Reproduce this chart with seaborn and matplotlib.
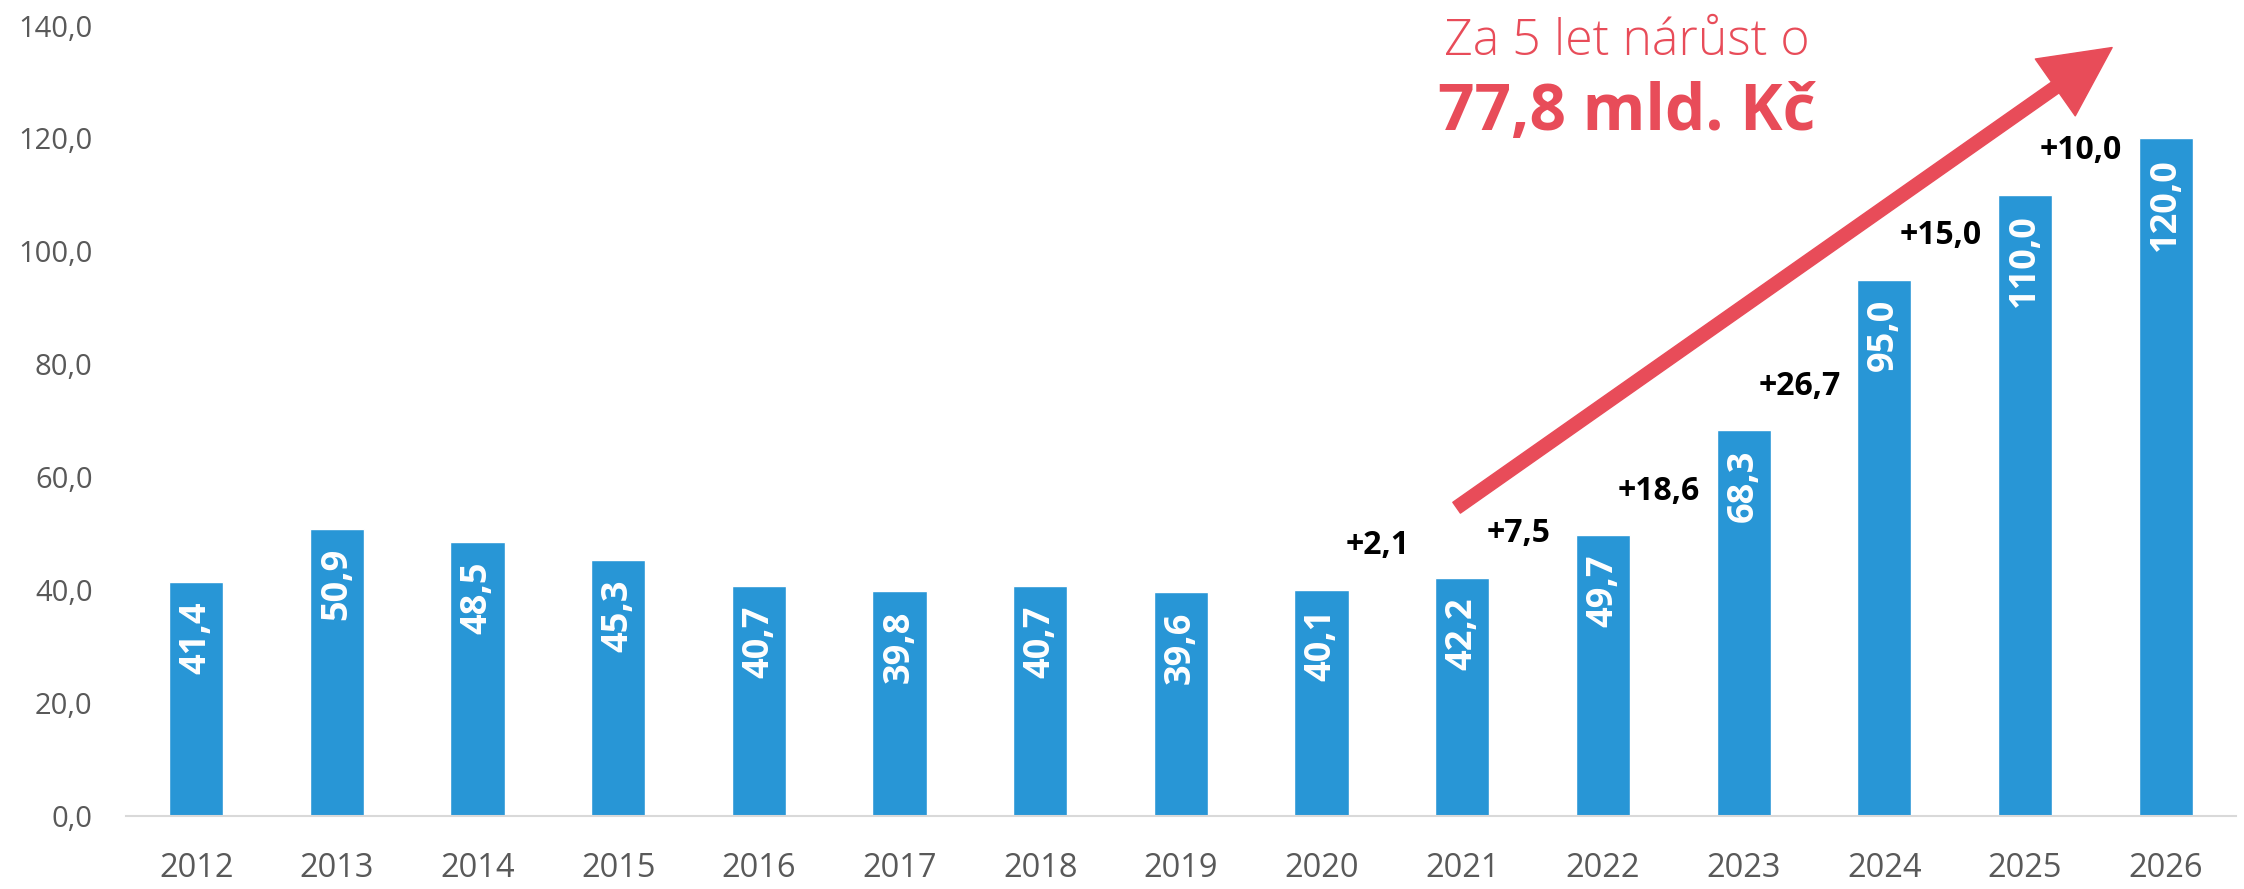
import numpy as np
import pandas as pd
import seaborn as sns
import matplotlib.pyplot as plt
from matplotlib.ticker import FuncFormatter

years = ['2012', '2013', '2014', '2015', '2016', '2017', '2018', '2019',
         '2020', '2021', '2022', '2023', '2024', '2025', '2026']
values = [41.4, 50.9, 48.5, 45.3, 40.7, 39.8, 40.7, 39.6,
          40.1, 42.2, 49.7, 68.3, 95.0, 110.0, 120.0]
first_growth_year = '2021'
headline = 'Za 5 let nárůst o'
headline_value = '77,8 mld. Kč'

blue = '#2896D6'
red = '#E84C59'
grey = '#595959'

df = pd.DataFrame({'rok': years, 'hodnota': values})

sns.set_style('white')
plt.rcParams['font.family'] = ['Open Sans', 'DejaVu Sans']

fig = plt.figure(figsize=(22.44, 8.89), dpi=100)
ax = fig.add_axes([0.0561, 0.0821, 0.9403, 0.8892])

sns.barplot(data=df, x='rok', y='hodnota', color=blue, saturation=1,
            width=0.385, ax=ax)

def fmt(v):
    return f'{v:.1f}'.replace('.', ',')

# value labels inside the bars
for i, v in enumerate(values):
    ax.annotate(fmt(v), xy=(i, v), xytext=(0, -14), textcoords='offset points',
                rotation=90, ha='center', va='top', color='white',
                fontsize=26, fontweight='bold')

# year-on-year increments
start = years.index(first_growth_year)
for i in range(start, len(values)):
    d = values[i] - values[i - 1]
    ax.text(i - 0.6, values[i - 1] + 6.3, '+' + fmt(d), ha='center',
            va='baseline', fontsize=23, fontweight='bold', color='black')

# arrow and headline
ax.annotate('', xy=(13.62, 136.1), xytext=(8.96, 54.6),
            arrowprops=dict(arrowstyle='simple,head_length=1.0,head_width=1.0,tail_width=0.19',
                            mutation_scale=50, color=red, shrinkA=0, shrinkB=0),
            annotation_clip=False)
ax.text(10.17, 134.8, headline, ha='center', va='baseline', fontsize=36,
        fontweight='light', color=red)
ax.text(10.17, 121.5, headline_value, ha='center', va='baseline', fontsize=46,
        fontweight='bold', color=red)

ax.set_ylim(0, 140)
ax.set_xlim(-0.5, 14.5)
ax.set_yticks(np.arange(0, 141, 20))
ax.yaxis.set_major_formatter(FuncFormatter(lambda v, p: fmt(v)))
ax.set_xlabel('')
ax.set_ylabel('')
ax.tick_params(axis='y', length=0, pad=24, labelsize=21, labelcolor=grey)
ax.tick_params(axis='x', length=0, pad=26, labelsize=23.5, labelcolor=grey)

for s in ['top', 'right', 'left']:
    ax.spines[s].set_visible(False)
ax.spines['bottom'].set_color('#D9D9D9')
ax.spines['bottom'].set_linewidth(1.5)

fig.savefig('out.png', dpi=100)
